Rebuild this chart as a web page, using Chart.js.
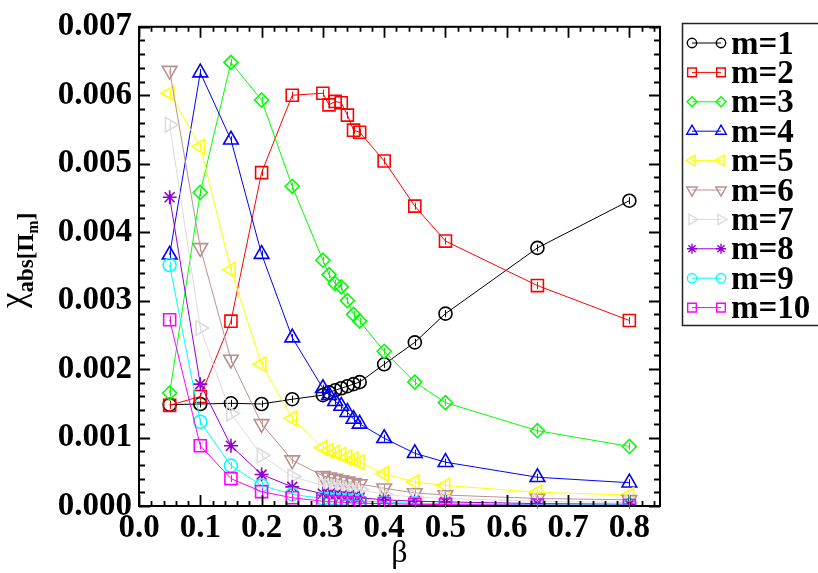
<!DOCTYPE html>
<html>
<head>
<meta charset="utf-8">
<script src="https://cdn.jsdelivr.net/npm/chart.js@4/dist/chart.umd.min.js"></script>
<style>
  html, body { margin: 0; padding: 0; background: #fff; }
  #wrap { width: 818px; height: 573px; }
</style>
</head>
<body>
<div id="wrap"><canvas id="chartChi" width="818" height="573"></canvas></div>
<script>
// beta values shared by all the series
const betaVals = [0.05, 0.1, 0.15, 0.2, 0.25, 0.3, 0.31, 0.32, 0.33, 0.34, 0.35, 0.36, 0.4, 0.45, 0.5, 0.65, 0.8];

const m1 = [0.00148, 0.00149, 0.00150, 0.00149, 0.00156, 0.00162, 0.00166, 0.00169, 0.00172, 0.00175, 0.00178, 0.00181, 0.00207, 0.00239, 0.00281, 0.00377, 0.00446];
const m2 = [0.00147, 0.00160, 0.00270, 0.00487, 0.00600, 0.00603, 0.00586, 0.00591, 0.00589, 0.00571, 0.00549, 0.00546, 0.00504, 0.00438, 0.00387, 0.00322, 0.00271];
const m3 = [0.00165, 0.00458, 0.00648, 0.00593, 0.00467, 0.00359, 0.00338, 0.00325, 0.00320, 0.00300, 0.00280, 0.00270, 0.00226, 0.00181, 0.00151, 0.00110, 0.00087];
const m4 = [0.00367, 0.00633, 0.00535, 0.00368, 0.00246, 0.00172, 0.00162, 0.00153, 0.00146, 0.00137, 0.00127, 0.00120, 0.00099, 0.00077, 0.00064, 0.00042, 0.00034];
const m5 = [0.00603, 0.00525, 0.00345, 0.00207, 0.00128, 0.00085, 0.00081, 0.00078, 0.00075, 0.00071, 0.00068, 0.00064, 0.00047, 0.00035, 0.00030, 0.00020, 0.00016];
const m6 = [0.00636, 0.00377, 0.00214, 0.00120, 0.00067, 0.00044, 0.00042, 0.00040, 0.00038, 0.00036, 0.00034, 0.00032, 0.00026, 0.00019, 0.00016, 0.00011, 0.00009];
const m7 = [0.00557, 0.00260, 0.00135, 0.00074, 0.00043, 0.00030, 0.00029, 0.00028, 0.00027, 0.00026, 0.00025, 0.00024, 0.00017, 0.00013, 0.00011, 0.00007, 0.00005];
const m8 = [0.00451, 0.00178, 0.00088, 0.00046, 0.00028, 0.00018, 0.00017, 0.00016, 0.00015, 0.00014, 0.00013, 0.00012, 0.00009, 0.00007, 0.00006, 0.000035, 0.000025];
const m9 = [0.00352, 0.00123, 0.00059, 0.00030, 0.00017, 0.00011, 0.00010, 0.000095, 0.00009, 0.000085, 0.00008, 0.000075, 0.000055, 0.00004, 0.000035, 0.00002, 0.000015];
const m10 = [0.00272, 0.00088, 0.00040, 0.00021, 0.00012, 0.00007, 0.000065, 0.00006, 0.000055, 0.00005, 0.000045, 0.00004, 0.000035, 0.000025, 0.00002, 0.000012, 0.000008];

const seriesLabels = ['m=1', 'm=2', 'm=3', 'm=4', 'm=5', 'm=6', 'm=7', 'm=8', 'm=9', 'm=10'];
const xTickVals = [0, 0.1, 0.2, 0.3, 0.4, 0.5, 0.6, 0.7, 0.8];
const yTickVals = [0, 0.001, 0.002, 0.003, 0.004, 0.005, 0.006, 0.007];

const allSeries = [m1, m2, m3, m4, m5, m6, m7, m8, m9, m10];
const colors = ['#000000', '#ff0000', '#00ff00', '#0000ff', '#ffff00', '#bc8f8f', '#dcdcdc', '#9400d3', '#00ffff', '#ff00ff'];
const marks = [
  { style: 'circle', rot: 0, r: 6.5 },
  { style: 'rect', rot: 0, r: 8.5 },
  { style: 'rectRot', rot: 0, r: 7 },
  { style: 'triangle', rot: 0, r: 8.5 },
  { style: 'triangle', rot: 270, r: 8.5 },
  { style: 'triangle', rot: 180, r: 8.5 },
  { style: 'triangle', rot: 90, r: 8.5 },
  { style: 'star', rot: 0, r: 7 },
  { style: 'circle', rot: 0, r: 6.5 },
  { style: 'rect', rot: 0, r: 8.5 }
];

const SERIF = "'Liberation Serif', 'Times New Roman', serif";

const datasets = allSeries.map((vals, i) => ({
  label: seriesLabels[i],
  data: betaVals.map((b, j) => ({ x: b, y: vals[j] })),
  borderColor: colors[i],
  backgroundColor: colors[i],
  borderWidth: 1,
  pointStyle: marks[i].style,
  pointRotation: marks[i].rot,
  pointRadius: marks[i].r,
  pointBorderWidth: 1.6,
  pointBackgroundColor: 'rgba(0,0,0,0)',
  pointBorderColor: colors[i],
  order: allSeries.length - i,
  tension: 0
}));

// frame with inward major/minor ticks on all four sides
const frameTicks = {
  id: 'frameTicks',
  afterDatasetsDraw(chart) {
    const { ctx, chartArea: a, scales: { x, y } } = chart;
    ctx.save();
    ctx.strokeStyle = '#000';
    ctx.lineWidth = 2;
    ctx.strokeRect(a.left, a.top, a.right - a.left, a.bottom - a.top);
    ctx.beginPath();
    for (let k = 0; k <= 42; k++) {
      const px = Math.round(x.getPixelForValue(k * 0.02)) + 0.5;
      const len = k % 5 === 0 ? 11 : 5;
      ctx.moveTo(px, a.bottom); ctx.lineTo(px, a.bottom - len);
      ctx.moveTo(px, a.top); ctx.lineTo(px, a.top + len);
    }
    for (let k = 0; k <= 35; k++) {
      const py = Math.round(y.getPixelForValue(k * 0.0002)) + 0.5;
      const len = k % 5 === 0 ? 11 : 6;
      ctx.moveTo(a.left, py); ctx.lineTo(a.left + len, py);
      ctx.moveTo(a.right, py); ctx.lineTo(a.right - len, py);
    }
    ctx.lineWidth = 1.8;
    ctx.stroke();
    ctx.restore();
  }
};

// tiny vertical bar through the centre of each marker
const centreBars = {
  id: 'centreBars',
  afterDatasetsDraw(chart) {
    const { ctx } = chart;
    ctx.save();
    ctx.lineWidth = 1;
    chart.data.datasets.forEach((ds, i) => {
      const meta = chart.getDatasetMeta(i);
      ctx.strokeStyle = ds.borderColor;
      ctx.beginPath();
      meta.data.forEach(pt => {
        const px = Math.round(pt.x) + 0.5;
        ctx.moveTo(px, pt.y - 3.5);
        ctx.lineTo(px, pt.y + 3.5);
      });
      ctx.stroke();
    });
    ctx.restore();
  }
};

// boxed legend with two markers joined by a line
const boxLegend = {
  id: 'boxLegend',
  afterDraw(chart) {
    const { ctx } = chart;
    ctx.save();
    ctx.fillStyle = '#fff';
    ctx.fillRect(682, 23, 140, 302);
    ctx.strokeStyle = '#222';
    ctx.lineWidth = 1.5;
    ctx.strokeRect(682.5, 23.5, 140, 302);
    chart.data.datasets.forEach((ds, i) => {
      const yy = 43 + i * 29.4;
      const x0 = 692, x1 = 721;
      ctx.strokeStyle = ds.borderColor;
      ctx.lineWidth = 1;
      ctx.beginPath();
      ctx.moveTo(x0, yy); ctx.lineTo(x1, yy);
      ctx.stroke();
      const opts = {
        pointStyle: marks[i].style,
        rotation: marks[i].rot,
        radius: marks[i].r * 0.72,
        borderWidth: 1.4
      };
      ctx.fillStyle = 'rgba(0,0,0,0)';
      ctx.lineWidth = 1.4;
      Chart.helpers.drawPoint(ctx, opts, x0, yy);
      Chart.helpers.drawPoint(ctx, opts, x1, yy);
      ctx.fillStyle = '#000';
      ctx.font = 'bold 33px ' + SERIF;
      ctx.textBaseline = 'middle';
      ctx.textAlign = 'left';
      ctx.fillText(ds.label, 731, yy + 2);
    });
    ctx.restore();
  }
};

// rotated y-axis title with nested subscripts
const yTitle = {
  id: 'yTitle',
  afterDraw(chart) {
    const { ctx } = chart;
    ctx.save();
    ctx.translate(24, 308);
    ctx.rotate(-Math.PI / 2);
    ctx.fillStyle = '#000';
    ctx.textBaseline = 'alphabetic';
    ctx.textAlign = 'left';
    let cx = 0;
    ctx.font = '35px ' + SERIF;
    ctx.fillText('χ', cx, 0);
    cx += ctx.measureText('χ').width;
    ctx.font = 'bold 23px ' + SERIF;
    ctx.fillText('abs[Π', cx, 9);
    cx += ctx.measureText('abs[Π').width;
    ctx.font = 'bold 16px ' + SERIF;
    ctx.fillText('m', cx, 14);
    cx += ctx.measureText('m').width;
    ctx.font = 'bold 23px ' + SERIF;
    ctx.fillText(']', cx, 9);
    ctx.restore();
  }
};

new Chart(document.getElementById('chartChi').getContext('2d'), {
  type: 'line',
  data: { datasets: datasets },
  options: {
    responsive: false,
    animation: false,
    devicePixelRatio: 1,
    layout: { padding: { left: 0, top: 24, right: 158, bottom: 0 } },
    plugins: { legend: { display: false }, tooltip: { enabled: false } },
    scales: {
      x: {
        type: 'linear',
        min: 0,
        max: 0.85,
        afterBuildTicks: s => { s.ticks = xTickVals.map(v => ({ value: v })); },
        afterFit: s => { s.height = 67; },
        grid: { display: false, drawTicks: false },
        border: { display: false },
        ticks: {
          padding: 3,
          autoSkip: false,
          maxRotation: 0,
          color: '#000',
          font: { family: SERIF, size: 33, weight: 'bold' },
          callback: v => v.toFixed(1)
        },
        title: {
          display: true,
          text: 'β',
          color: '#000',
          font: { family: SERIF, size: 32 },
          padding: { top: 0, bottom: 0 }
        }
      },
      y: {
        type: 'linear',
        min: 0,
        max: 0.007,
        afterBuildTicks: s => { s.ticks = yTickVals.map(v => ({ value: v })); },
        afterFit: s => { s.width = 139; },
        grid: { display: false, drawTicks: false },
        border: { display: false },
        ticks: {
          padding: 7,
          autoSkip: false,
          color: '#000',
          font: { family: SERIF, size: 33, weight: 'bold' },
          callback: v => v.toFixed(3)
        }
      }
    }
  },
  plugins: [frameTicks, centreBars, boxLegend, yTitle]
});
</script>
</body>
</html>
